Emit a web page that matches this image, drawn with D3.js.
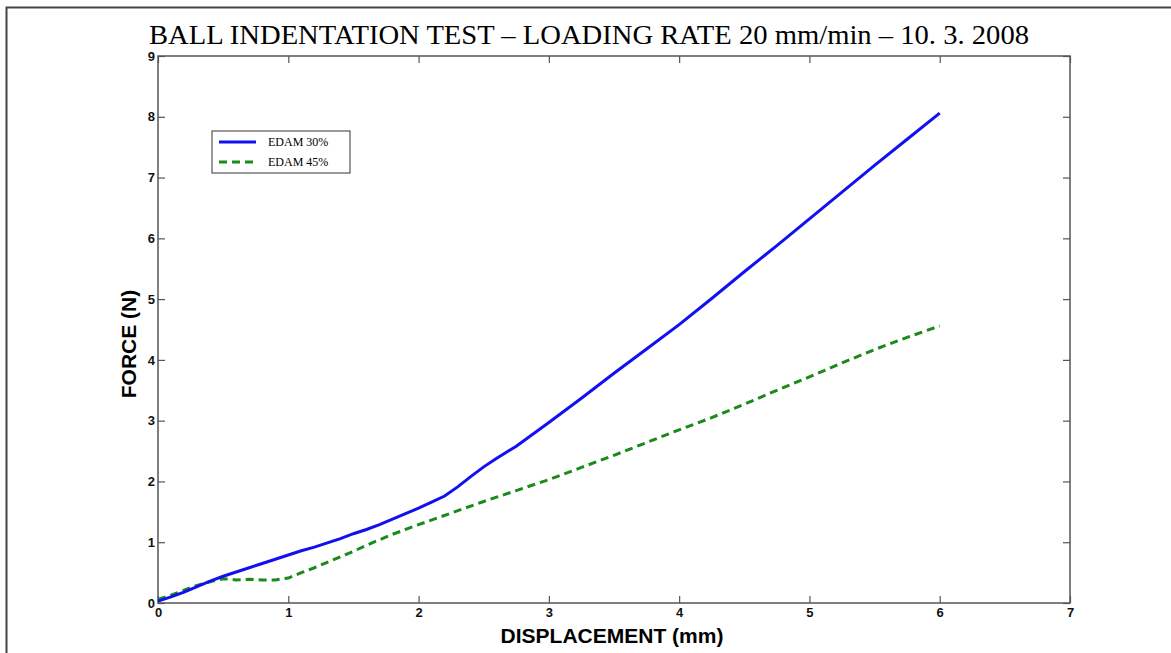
<!DOCTYPE html>
<html>
<head>
<meta charset="utf-8">
<script src="https://cdn.jsdelivr.net/npm/d3@7/dist/d3.min.js"></script>
<style>
  html, body { margin: 0; padding: 0; background: #fff; overflow: hidden; }
  svg { display: block; }
</style>
</head>
<body>
<svg id="chart" width="1171" height="653"></svg>
<script>
// Ball indentation test, loading rate 20 mm/min
const titleText = "BALL INDENTATION TEST \u2013 LOADING RATE 20 mm/min \u2013 10. 3. 2008";
const xLabel = "DISPLACEMENT (mm)";
const yLabel = "FORCE (N)";
const xTicks = [0, 1, 2, 3, 4, 5, 6, 7];
const yTicks = [0, 1, 2, 3, 4, 5, 6, 7, 8, 9];
const seriesNames = ["EDAM 30%", "EDAM 45%"];

// displacement (mm) / force (N) for EDAM 30%
const edam30X = [0, 0.1, 0.2, 0.3, 0.4, 0.5, 0.6, 0.7, 0.8, 0.9, 1.0, 1.1, 1.2, 1.3, 1.4, 1.5, 1.6, 1.7, 1.8, 1.9, 2.0, 2.1, 2.2, 2.3, 2.4, 2.5, 2.6, 2.75, 3.0, 3.25, 3.5, 3.75, 4.0, 4.25, 4.5, 4.75, 5.0, 5.25, 5.5, 5.75, 6.0];
const edam30Y = [0.03, 0.1, 0.18, 0.27, 0.36, 0.44, 0.51, 0.58, 0.65, 0.72, 0.79, 0.86, 0.92, 0.99, 1.06, 1.14, 1.21, 1.29, 1.38, 1.47, 1.56, 1.66, 1.76, 1.91, 2.08, 2.24, 2.38, 2.58, 2.97, 3.37, 3.78, 4.18, 4.58, 5.01, 5.45, 5.88, 6.32, 6.76, 7.2, 7.63, 8.06];

// displacement (mm) / force (N) for EDAM 45%
const edam45X = [0, 0.1, 0.2, 0.3, 0.4, 0.5, 0.6, 0.7, 0.8, 0.9, 1.0, 1.1, 1.2, 1.3, 1.4, 1.5, 1.6, 1.7, 1.8, 1.9, 2.0, 2.25, 2.5, 2.75, 3.0, 3.25, 3.5, 3.75, 4.0, 4.25, 4.5, 4.75, 5.0, 5.25, 5.5, 5.75, 6.0];
const edam45Y = [0.06, 0.13, 0.21, 0.29, 0.35, 0.4, 0.38, 0.39, 0.38, 0.38, 0.41, 0.5, 0.58, 0.67, 0.76, 0.85, 0.95, 1.04, 1.13, 1.21, 1.29, 1.48, 1.67, 1.85, 2.03, 2.23, 2.43, 2.64, 2.85, 3.05, 3.27, 3.5, 3.72, 3.95, 4.17, 4.37, 4.56];

const svg = d3.select("#chart");

// outer frame (left and top edges)
svg.append("path")
  .attr("d", "M6.5,653 L6.5,7.5 L1171,7.5")
  .attr("fill", "none").attr("stroke", "#444").attr("stroke-width", 2);

const plot = { left: 158, right: 1070, top: 56, bottom: 603 };

const x = d3.scaleLinear().domain([0, 7]).range([plot.left, plot.right]);
const y = d3.scaleLinear().domain([0, 9]).range([plot.bottom, plot.top]);

const axisColor = "#555";
const tickFont = "bold 13px 'Liberation Sans', Arial, sans-serif";

// axes: inward ticks on all four sides
function styleAxis(g, showLabels) {
  g.select(".domain").remove();
  g.selectAll(".tick line").attr("stroke", axisColor).attr("stroke-width", 1.2);
  g.selectAll(".tick text")
    .style("font", tickFont).attr("fill", "#111");
  if (!showLabels) g.selectAll(".tick text").remove();
}

svg.append("g")
  .attr("transform", `translate(0,${plot.bottom})`)
  .call(d3.axisBottom(x).tickValues(xTicks).tickFormat(d3.format("d")).tickSizeInner(-7).tickSizeOuter(0).tickPadding(5))
  .call(g => styleAxis(g, true));

svg.append("g")
  .attr("transform", `translate(0,${plot.top})`)
  .call(d3.axisTop(x).tickValues(xTicks).tickSizeInner(-7).tickSizeOuter(0))
  .call(g => styleAxis(g, false));

svg.append("g")
  .attr("transform", `translate(${plot.left},0)`)
  .call(d3.axisLeft(y).tickValues(yTicks).tickFormat(d3.format("d")).tickSizeInner(-7).tickSizeOuter(0).tickPadding(3))
  .call(g => styleAxis(g, true));

svg.append("g")
  .attr("transform", `translate(${plot.right},0)`)
  .call(d3.axisRight(y).tickValues(yTicks).tickSizeInner(-7).tickSizeOuter(0))
  .call(g => styleAxis(g, false));

// plot box
svg.append("rect")
  .attr("x", plot.left).attr("y", plot.top)
  .attr("width", plot.right - plot.left).attr("height", plot.bottom - plot.top)
  .attr("fill", "none").attr("stroke", axisColor).attr("stroke-width", 1.5);

// curves
const line = d3.line().x(d => x(d[0])).y(d => y(d[1]));
const s30 = d3.zip(edam30X, edam30Y);
const s45 = d3.zip(edam45X, edam45Y);

svg.append("path").datum(s45)
  .attr("d", line)
  .attr("fill", "none").attr("stroke", "#1a8a1a").attr("stroke-width", 3)
  .attr("stroke-dasharray", "8,5");

svg.append("path").datum(s30)
  .attr("d", line)
  .attr("fill", "none").attr("stroke", "#1010f0").attr("stroke-width", 3);

// title
svg.append("text")
  .attr("x", 589).attr("y", 44)
  .attr("text-anchor", "middle")
  .attr("textLength", 880).attr("lengthAdjust", "spacingAndGlyphs")
  .style("font", "27px 'Liberation Serif', 'Times New Roman', serif")
  .attr("fill", "#000")
  .text(titleText);

// axis labels
svg.append("text")
  .attr("x", 612).attr("y", 643)
  .attr("text-anchor", "middle")
  .style("font", "bold 21px 'Liberation Sans', Arial, sans-serif")
  .attr("fill", "#000")
  .text(xLabel);

svg.append("text")
  .attr("transform", "translate(136,344) rotate(-90)")
  .attr("text-anchor", "middle")
  .style("font", "bold 21px 'Liberation Sans', Arial, sans-serif")
  .attr("fill", "#000")
  .text(yLabel);

// legend
const legend = svg.append("g");
legend.append("rect")
  .attr("x", 212).attr("y", 131).attr("width", 138).attr("height", 42)
  .attr("fill", "#fff").attr("stroke", "#555").attr("stroke-width", 1.2);

const legendItems = [
  { name: seriesNames[0], color: "#1010f0", dash: null, y: 142 },
  { name: seriesNames[1], color: "#1a8a1a", dash: "8,5", y: 162 }
];
legendItems.forEach(it => {
  legend.append("line")
    .attr("x1", 219).attr("x2", 256).attr("y1", it.y).attr("y2", it.y)
    .attr("stroke", it.color).attr("stroke-width", 3)
    .attr("stroke-dasharray", it.dash);
  legend.append("text")
    .attr("x", 268).attr("y", it.y + 4)
    .style("font", "12px 'Liberation Serif', 'Times New Roman', serif")
    .attr("fill", "#000")
    .text(it.name);
});
</script>
</body>
</html>
